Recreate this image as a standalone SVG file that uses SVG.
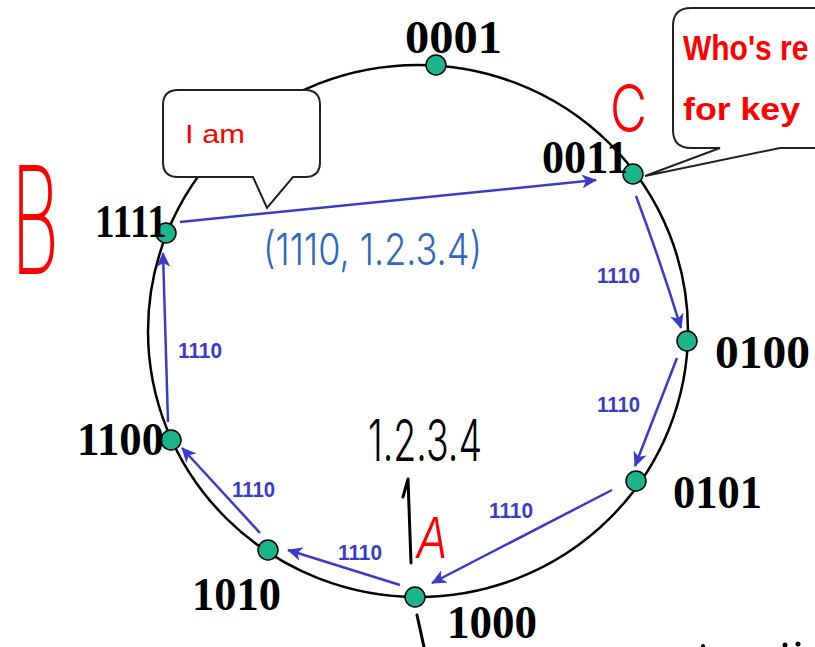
<svg xmlns="http://www.w3.org/2000/svg" width="815" height="647" viewBox="0 0 815 647">
<style>
.ring{fill:none;stroke:#000;stroke-width:2.5}
.node{fill:#1bb58b;stroke:#000;stroke-width:1.5}
.lbl{font-family:"Liberation Serif",serif;font-weight:bold;font-size:46px;fill:#000}
.arr{fill:none;stroke:#3b3bc9;stroke-width:2.5}
.k{font-family:"Liberation Sans",Arial,sans-serif;font-weight:bold;font-size:22px;fill:#3b3bc9}
.bub{fill:#fff;stroke:#222;stroke-width:2}
.red{font-family:"Liberation Sans",sans-serif;fill:#ff0000}
.hand{font-family:"Inter","DejaVu Sans",sans-serif;font-weight:300}
.thin{font-family:"DejaVu Sans",sans-serif;font-weight:200}
.ink{fill:none;stroke:#000;stroke-width:3;stroke-linecap:round;stroke-linejoin:round}
</style>
<defs>
<marker id="ah" markerUnits="userSpaceOnUse" markerWidth="16" markerHeight="14" refX="14" refY="7" orient="auto">
<path d="M0,0 L15,7 L0,14 L4,7 Z" fill="#3b3bc9"/>
</marker>
</defs>
<rect width="815" height="647" fill="#fff"/>
<ellipse class="ring" cx="418" cy="331" rx="270" ry="266"/>
<g id="connectors">
<path class="arr" d="M180,222 L596,180" stroke-width="3" marker-end="url(#ah)"/>
<path class="arr" d="M636,196 Q660,260 681,328" marker-end="url(#ah)"/>
<path class="arr" d="M677,358 L635,466" marker-end="url(#ah)"/>
<path class="arr" d="M612,490 L432,583" marker-end="url(#ah)"/>
<path class="arr" d="M400,585 L288,550" marker-end="url(#ah)"/>
<path class="arr" d="M260,533 L182,448" marker-end="url(#ah)"/>
<path class="arr" d="M168,422 L163,253" marker-end="url(#ah)"/>
<text class="k" x="597" y="283" textLength="43" lengthAdjust="spacingAndGlyphs">1110</text>
<text class="k" x="597" y="412" textLength="43" lengthAdjust="spacingAndGlyphs">1110</text>
<text class="k" x="489" y="518" textLength="44" lengthAdjust="spacingAndGlyphs">1110</text>
<text class="k" x="338" y="560" textLength="44" lengthAdjust="spacingAndGlyphs">1110</text>
<text class="k" x="232" y="497" textLength="43" lengthAdjust="spacingAndGlyphs">1110</text>
<text class="k" x="178" y="358" textLength="44" lengthAdjust="spacingAndGlyphs">1110</text>
</g>
<g id="n0001"><circle class="node" cx="436" cy="65" r="10"/><text class="lbl" x="405" y="53" textLength="97" lengthAdjust="spacingAndGlyphs">0001</text></g>
<g id="n0011"><circle class="node" cx="633" cy="174" r="10"/><text class="lbl" x="542" y="173" textLength="86" lengthAdjust="spacingAndGlyphs">0011</text></g>
<g id="n0100"><circle class="node" cx="687" cy="341" r="10"/><text class="lbl" x="715" y="368" textLength="95" lengthAdjust="spacingAndGlyphs">0100</text></g>
<g id="n0101"><circle class="node" cx="636" cy="481" r="10"/><text class="lbl" x="673" y="508" textLength="89" lengthAdjust="spacingAndGlyphs">0101</text></g>
<g id="n1000"><circle class="node" cx="415" cy="597" r="10"/><text class="lbl" x="447" y="638" textLength="90" lengthAdjust="spacingAndGlyphs">1000</text></g>
<g id="n1010"><circle class="node" cx="268" cy="550" r="10"/><text class="lbl" x="192" y="610" textLength="89" lengthAdjust="spacingAndGlyphs">1010</text></g>
<g id="n1100"><circle class="node" cx="171" cy="440" r="10"/><text class="lbl" x="77" y="455" textLength="87" lengthAdjust="spacingAndGlyphs">1100</text></g>
<g id="n1111"><circle class="node" cx="166" cy="233" r="10"/><text class="lbl" x="95" y="237" textLength="72" lengthAdjust="spacingAndGlyphs">1111</text></g>
<g id="bubble-iam">
<path class="bub" d="M178,90 H305 Q320,90 320,105 V162 Q320,177 305,177 H293 L267,208 L253,177 H178 Q163,177 163,162 V105 Q163,90 178,90 Z"/>
<text class="red" x="185" y="143" font-size="26" textLength="60" lengthAdjust="spacingAndGlyphs">I am</text>
</g>
<g id="bubble-who">
<path class="bub" d="M830,8 H691 Q673,8 673,26 V130 Q673,148 691,148 H720 L645,176 L780,148 H830"/>
<text class="red" transform="translate(683,60) scale(1,1.15)" font-size="30" font-weight="bold">Who's re</text>
<text class="red" x="683" y="120" font-size="32" font-weight="bold" textLength="117" lengthAdjust="spacingAndGlyphs">for key</text>
</g>
<g id="annotations">
<text class="hand" x="263" y="265" font-size="44" font-weight="400" fill="#2f67c2" textLength="219" lengthAdjust="spacingAndGlyphs">(1110, 1.2.3.4)</text>
<text class="hand" x="368" y="461" font-size="58" fill="#000" textLength="114" lengthAdjust="spacingAndGlyphs">1.2.3.4</text>
<path class="ink" d="M411,563 L408,479 L403,497"/>
<path class="ink" d="M417,615 L424,647"/>
<text class="hand" x="416" y="558" font-size="56" font-style="italic" fill="#ff0000" textLength="32" lengthAdjust="spacingAndGlyphs">A</text>
<text class="hand" x="610" y="132" font-size="66" fill="#ff0000" textLength="37" lengthAdjust="spacingAndGlyphs">C</text>
<text class="thin" transform="translate(10,274) scale(0.5,1)" font-size="150" fill="#ff0000">B</text>
<circle cx="703" cy="646" r="2" fill="#000"/>
<circle cx="785" cy="645" r="2.5" fill="#000"/>
<circle cx="798" cy="644" r="2.5" fill="#000"/>
</g>
</svg>
